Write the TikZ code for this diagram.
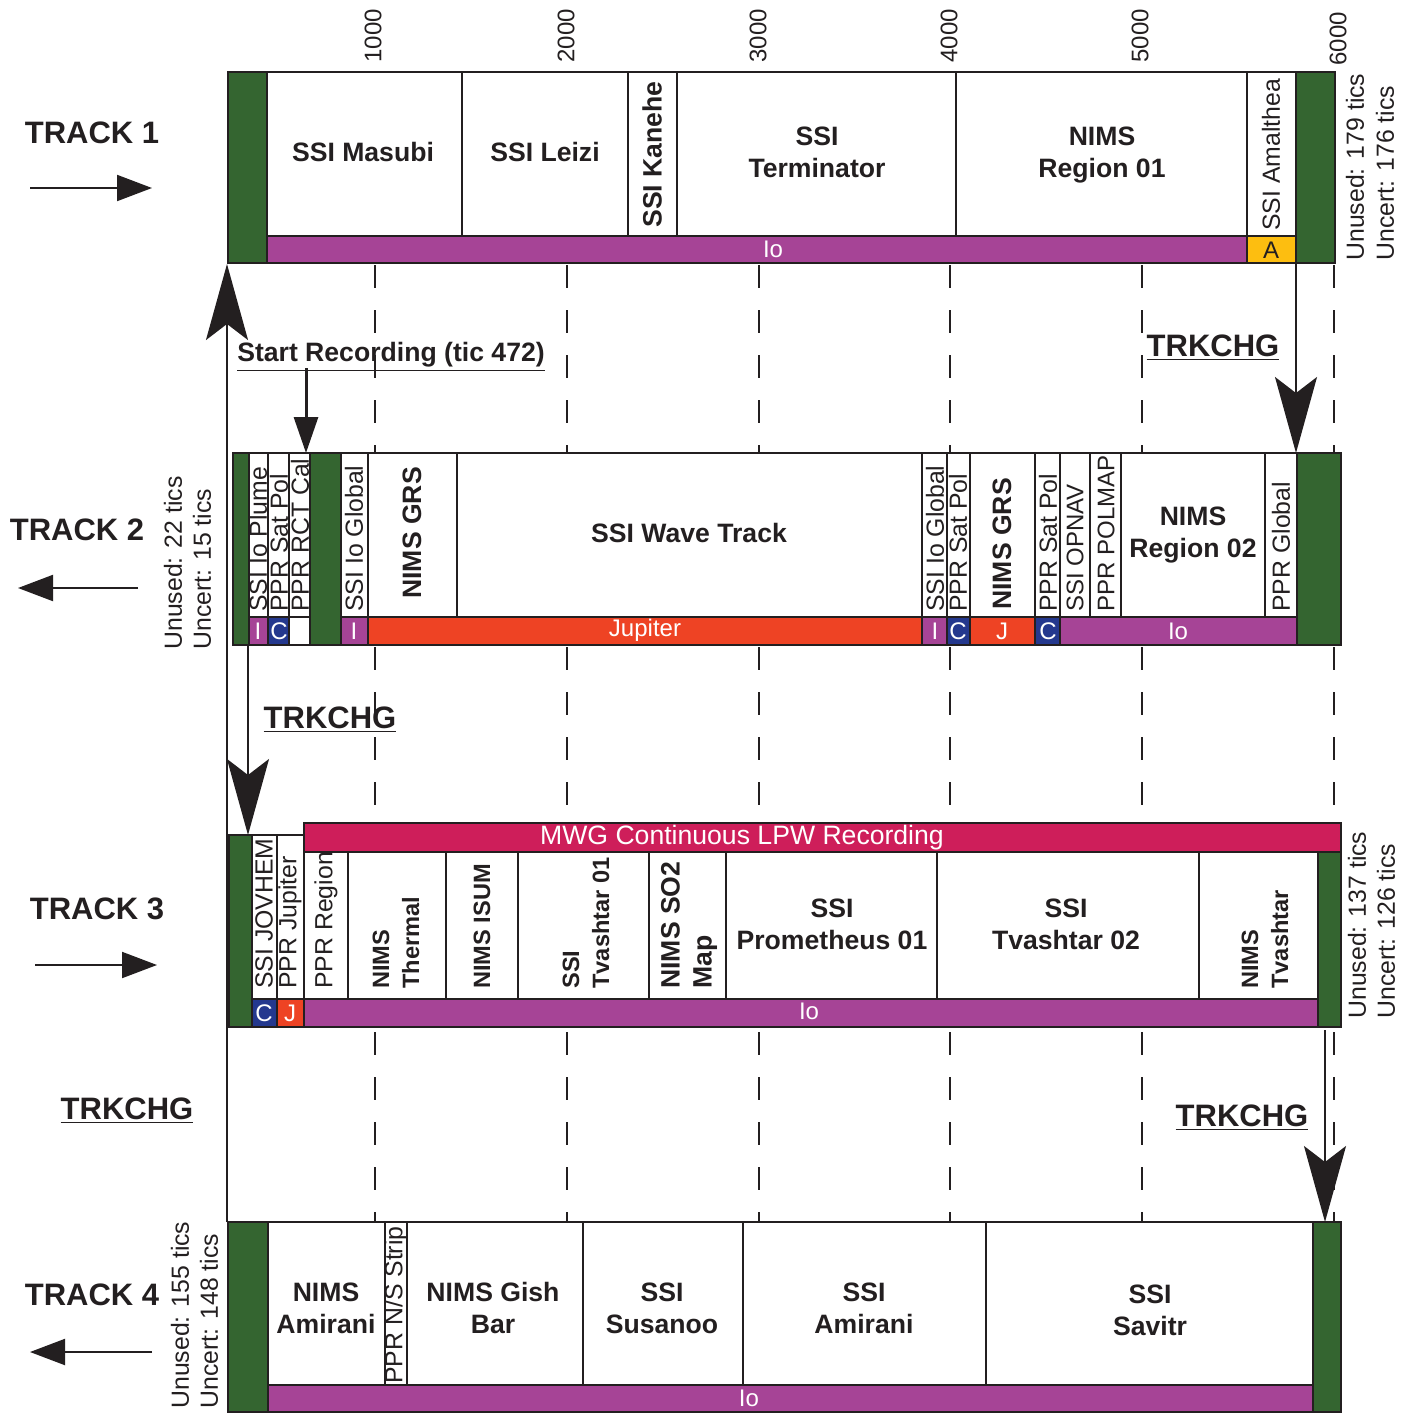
\documentclass[tikz,border=0pt]{standalone}
\usepackage{fontspec}
\setmainfont{Liberation Sans}
\usetikzlibrary{arrows.meta}

\definecolor{padgreen}{RGB}{52,101,48}
\definecolor{iopurple}{RGB}{166,68,150}
\definecolor{juporange}{RGB}{238,67,36}
\definecolor{calblue}{RGB}{36,56,142}
\definecolor{amyellow}{RGB}{253,190,16}
\definecolor{mwgpink}{RGB}{206,30,90}
\definecolor{ink}{RGB}{35,31,32}

\begin{document}
\begin{tikzpicture}[x=0.5pt, y=-0.5pt,
    cell/.style={draw=ink, line width=1pt, fill=white},
    pad/.style={draw=ink, line width=1pt, fill=padgreen},
    ioseg/.style={draw=ink, line width=1pt, fill=iopurple},
    jupseg/.style={draw=ink, line width=1pt, fill=juporange},
    calseg/.style={draw=ink, line width=1pt, fill=calblue},
    amseg/.style={draw=ink, line width=1pt, fill=amyellow},
    mwgseg/.style={draw=ink, line width=1pt, fill=mwgpink},
    frame/.style={draw=ink, line width=1.4pt},
    obs/.style={text=ink, align=center, font=\fontsize{13.3}{16}\selectfont\bfseries},
    vobs/.style={obs, align=left, rotate=90, anchor=west, inner sep=1pt},
    vsmall/.style={vobs, font=\fontsize{11.8}{15}\selectfont\bfseries},
    vthin/.style={text=ink, rotate=90, anchor=west, inner sep=1pt, font=\fontsize{12.4}{14}\selectfont},
    vnarrow/.style={vthin, font=\fontsize{12}{14}\selectfont},
    bartext/.style={text=white, inner sep=0pt, font=\fontsize{12}{14}\selectfont},
    axislabel/.style={text=ink, rotate=90, anchor=west, inner sep=0pt, font=\fontsize{12}{14}\selectfont},
    tracklabel/.style={text=ink, font=\fontsize{15.5}{18}\selectfont\bfseries},
    dirarrow/.style={draw=ink, line width=1pt, -{Triangle[length=17.5pt,width=13pt]}},
    trkchg/.style={draw=ink, line width=1pt, -{Stealth[length=38pt,width=21pt,inset=8pt]}},
    recarrow/.style={draw=ink, line width=1.5pt, -{Triangle[length=18pt,width=12pt]}},
    tic/.style={draw=ink, line width=0.7pt, dash pattern=on 11.5pt off 11pt}]

    \useasboundingbox (0,0) rectangle (1409,1414);

    % axis
    \node[axislabel] (ax1) at (373,63) {1000};
    \node[axislabel] (ax2) at (566,63) {2000};
    \node[axislabel] (ax3) at (758,63) {3000};
    \node[axislabel] (ax4) at (949,63) {4000};
    \node[axislabel] (ax5) at (1140,63) {5000};
    \node[axislabel] (ax6) at (1338,66) {6000};

    \draw[tic] (375,265) -- (375,453) (375,647) -- (375,835) (375,1032) -- (375,1222);
    \draw[tic] (567,265) -- (567,453) (567,647) -- (567,835) (567,1032) -- (567,1222);
    \draw[tic] (759,265) -- (759,453) (759,647) -- (759,823) (759,1032) -- (759,1222);
    \draw[tic] (950,265) -- (950,453) (950,647) -- (950,823) (950,1032) -- (950,1222);
    \draw[tic] (1142,265) -- (1142,453) (1142,647) -- (1142,823) (1142,1032) -- (1142,1222);
    \draw[tic] (1334,265) -- (1334,453) (1334,647) -- (1334,823) (1334,1032) -- (1334,1222);

    % track 1
    \node[tracklabel] (track1) at (92,133) {TRACK 1};
    \coordinate (dir1a) at (30,188);
    \coordinate (dir1b) at (152,188);
    \draw[dirarrow] (dir1a) -- (dir1b);

    \draw[pad] (228,72) rectangle (267,263);
    \draw[cell] (267,72) rectangle (462,236);
    \draw[cell] (462,72) rectangle (628,236);
    \draw[cell] (628,72) rectangle (677,236);
    \draw[cell] (677,72) rectangle (956,236);
    \draw[cell] (956,72) rectangle (1247,236);
    \draw[cell] (1247,72) rectangle (1296,236);
    \draw[ioseg] (267,236) rectangle (1247,263);
    \draw[amseg] (1247,236) rectangle (1296,263);
    \draw[pad] (1296,72) rectangle (1335,263);
    \draw[frame] (228,72) rectangle (1335,263);

    \node[obs] (masubi) at (363,152) {SSI Masubi};
    \node[obs] (leizi) at (545,152) {SSI Leizi};
    \node[vobs] (kanehe) at (652,230) {SSI Kanehe};
    \node[obs] (terminator) at (817,152) {SSI\\Terminator};
    \node[obs] (region01) at (1102,155) {NIMS\\Region 01};
    \node[vthin] (amalthea) at (1271,233) {SSI Amalthea};
    \node[bartext] (io1) at (773,249) {Io};
    \node[bartext, text=ink] (am1) at (1271,250) {A};

    \node[vthin] (unused1) at (1355,263) {Unused: 179 tics};
    \node[vthin] (uncert1) at (1385,263) {Uncert: 176 tics};

    % track 2
    \node[tracklabel] (track2) at (77,530) {TRACK 2};
    \coordinate (dir2a) at (138,588);
    \coordinate (dir2b) at (18,588);
    \draw[dirarrow] (dir2a) -- (dir2b);

    \draw[pad] (233,453) rectangle (249,645);
    \draw[cell] (249,453) rectangle (268,617);
    \draw[cell] (268,453) rectangle (289,617);
    \draw[cell] (289,453) rectangle (310,617);
    \draw[cell] (341,453) rectangle (368,617);
    \draw[cell] (368,453) rectangle (457,617);
    \draw[cell] (457,453) rectangle (922,617);
    \draw[cell] (922,453) rectangle (947,617);
    \draw[cell] (947,453) rectangle (970,617);
    \draw[cell] (970,453) rectangle (1035,617);
    \draw[cell] (1035,453) rectangle (1060,617);
    \draw[cell] (1060,453) rectangle (1090,617);
    \draw[cell] (1090,453) rectangle (1121,617);
    \draw[cell] (1121,453) rectangle (1265,617);
    \draw[cell] (1265,453) rectangle (1297,617);
    \draw[ioseg] (249,617) rectangle (268,645);
    \draw[calseg] (268,617) rectangle (289,645);
    \draw[cell] (289,617) rectangle (310,645);
    \draw[pad] (310,453) rectangle (341,645);
    \draw[ioseg] (341,617) rectangle (368,645);
    \draw[jupseg] (368,617) rectangle (922,645);
    \draw[ioseg] (922,617) rectangle (947,645);
    \draw[calseg] (947,617) rectangle (970,645);
    \draw[jupseg] (970,617) rectangle (1035,645);
    \draw[calseg] (1035,617) rectangle (1060,645);
    \draw[ioseg] (1060,617) rectangle (1297,645);
    \draw[pad] (1297,453) rectangle (1341,645);
    \draw[frame] (233,453) rectangle (1341,645);

    \node[vthin] (plume) at (258,614) {SSI Io Plume};
    \node[vthin] (satpol1) at (279,614) {PPR Sat Pol};
    \node[vthin] (rctcal) at (300,614) {PPR RCT Cal};
    \node[vthin] (global1) at (354,614) {SSI Io Global};
    \node[vobs] (grs1) at (412,601) {NIMS GRS};
    \node[obs] (wavetrack) at (689,533) {SSI Wave Track};
    \node[vthin] (global2) at (935,614) {SSI Io Global};
    \node[vthin] (satpol2) at (958,614) {PPR Sat Pol};
    \node[vobs] (grs2) at (1002,612) {NIMS GRS};
    \node[vthin] (satpol3) at (1048,614) {PPR Sat Pol};
    \node[vnarrow] (opnav) at (1075,614) {SSI OPNAV};
    \node[vnarrow] (polmap) at (1106,614) {PPR POLMAP};
    \node[obs] (region02) at (1193,535) {NIMS\\Region 02};
    \node[vthin] (pprglobal) at (1281,614) {PPR Global};

    \node[bartext] (i1) at (258,631) {I};
    \node[bartext] (c1) at (279,631) {C};
    \node[bartext] (i2) at (354,631) {I};
    \node[bartext] (jup) at (645,630) {Jupiter};
    \node[bartext] (i3) at (935,631) {I};
    \node[bartext] (c2) at (958,631) {C};
    \node[bartext] (j1) at (1002,631) {J};
    \node[bartext] (c3) at (1048,631) {C};
    \node[bartext] (io2) at (1178,631) {Io};

    \node[vthin] (unused2) at (173,652) {Unused: 22 tics};
    \node[vthin] (uncert2) at (202,652) {Uncert: 15 tics};

    % track 3
    \node[tracklabel] (track3) at (97,909) {TRACK 3};
    \coordinate (dir3a) at (35,965);
    \coordinate (dir3b) at (157,965);
    \draw[dirarrow] (dir3a) -- (dir3b);

    \draw[pad] (229,835) rectangle (252,1027);
    \draw[cell] (252,835) rectangle (277,999);
    \draw[cell] (277,835) rectangle (304,999);
    \draw[mwgseg] (304,823) rectangle (1341,852);
    \draw[cell] (304,852) rectangle (348,999);
    \draw[cell] (348,852) rectangle (446,999);
    \draw[cell] (446,852) rectangle (518,999);
    \draw[cell] (518,852) rectangle (649,999);
    \draw[cell] (649,852) rectangle (726,999);
    \draw[cell] (726,852) rectangle (937,999);
    \draw[cell] (937,852) rectangle (1199,999);
    \draw[cell] (1199,852) rectangle (1318,999);
    \draw[calseg] (252,999) rectangle (277,1027);
    \draw[jupseg] (277,999) rectangle (304,1027);
    \draw[ioseg] (304,999) rectangle (1318,1027);
    \draw[pad] (1318,852) rectangle (1341,1027);
    \draw[frame] (229,835) -- (304,835) -- (304,823) -- (1341,823) -- (1341,1027) -- (229,1027) -- cycle;

    \node[bartext, font=\fontsize{13.3}{16}\selectfont] (mwg) at (742,838) {MWG Continuous LPW Recording};
    \node[vthin] (jovhem) at (264,991) {SSI JOVHEM};
    \node[vthin] (pprjup) at (290,991) {PPR Jupiter};
    \node[vthin] (pprregion) at (326,991) {PPR Region};
    \node[vsmall] (thermal) at (396,991) {NIMS\\Thermal};
    \node[vsmall] (isum) at (482,991) {NIMS ISUM};
    \node[vsmall] (tvashtar01) at (586,991) {SSI\\Tvashtar 01};
    \node[vobs] (so2map) at (689,991) {NIMS SO2\\Map};
    \node[obs] (prometheus) at (832,924) {SSI\\Prometheus 01};
    \node[obs] (tvashtar02) at (1066,924) {SSI\\Tvashtar 02};
    \node[vsmall] (nimstvashtar) at (1265,991) {NIMS\\Tvashtar};

    \node[bartext] (c4) at (264,1013) {C};
    \node[bartext] (j2) at (290,1013) {J};
    \node[bartext] (io3) at (809,1011) {Io};

    \node[vthin] (unused3) at (1357,1021) {Unused: 137 tics};
    \node[vthin] (uncert3) at (1386,1021) {Uncert: 126 tics};

    % track 4
    \node[tracklabel] (track4) at (92,1295) {TRACK 4};
    \coordinate (dir4a) at (152,1352);
    \coordinate (dir4b) at (30,1352);
    \draw[dirarrow] (dir4a) -- (dir4b);

    \draw[pad] (228,1222) rectangle (268,1412);
    \draw[cell] (268,1222) rectangle (385,1385);
    \draw[cell] (385,1222) rectangle (407,1385);
    \draw[cell] (407,1222) rectangle (583,1385);
    \draw[cell] (583,1222) rectangle (743,1385);
    \draw[cell] (743,1222) rectangle (986,1385);
    \draw[cell] (986,1222) rectangle (1313,1385);
    \draw[ioseg] (268,1385) rectangle (1313,1412);
    \draw[pad] (1313,1222) rectangle (1341,1412);
    \draw[frame] (228,1222) rectangle (1341,1412);

    \node[obs] (amirani1) at (326,1308) {NIMS\\Amirani};
    \node[vthin] (nsstrip) at (396,1386) {PPR N/S Strip};
    \node[obs] (gishbar) at (493,1308) {NIMS Gish\\Bar};
    \node[obs] (susanoo) at (662,1308) {SSI\\Susanoo};
    \node[obs] (amirani2) at (864,1308) {SSI\\Amirani};
    \node[obs] (savitr) at (1150,1310) {SSI\\Savitr};
    \node[bartext] (io4) at (749,1398) {Io};

    \node[vthin] (unused4) at (180,1411) {Unused: 155 tics};
    \node[vthin] (uncert4) at (209,1411) {Uncert: 148 tics};

    % recording start and track changes
    \node[tracklabel, font=\fontsize{13.3}{16}\selectfont\bfseries] (startrec) at (391,357) {\underline{Start Recording (tic 472)}};
    \coordinate (recfrom) at (306,368);
    \coordinate (recpt) at (306,453);
    \draw[recarrow] (recfrom) -- (recpt);

    \coordinate (t1end) at (1296,263);
    \coordinate (t2start) at (1296,453);
    \draw[trkchg] (t1end) -- (t2start);
    \node[tracklabel] (chg12) at (1213,348) {\underline{TRKCHG}};

    \coordinate (t2end) at (248,645);
    \coordinate (t3start) at (248,835);
    \draw[trkchg] (t2end) -- (t3start);
    \node[tracklabel] (chg23) at (330,720) {\underline{TRKCHG}};

    \coordinate (t3end) at (1325,1030);
    \coordinate (t4start) at (1325,1222);
    \draw[trkchg] (t3end) -- (t4start);
    \node[tracklabel] (chg34) at (1242,1118) {\underline{TRKCHG}};
    \node[tracklabel] (chgleft) at (127,1111) {\underline{TRKCHG}};

    \coordinate (t4end) at (227,1222);
    \coordinate (t1start) at (227,264);
    \draw[trkchg] (t4end) -- (t1start);
\end{tikzpicture}
\end{document}
